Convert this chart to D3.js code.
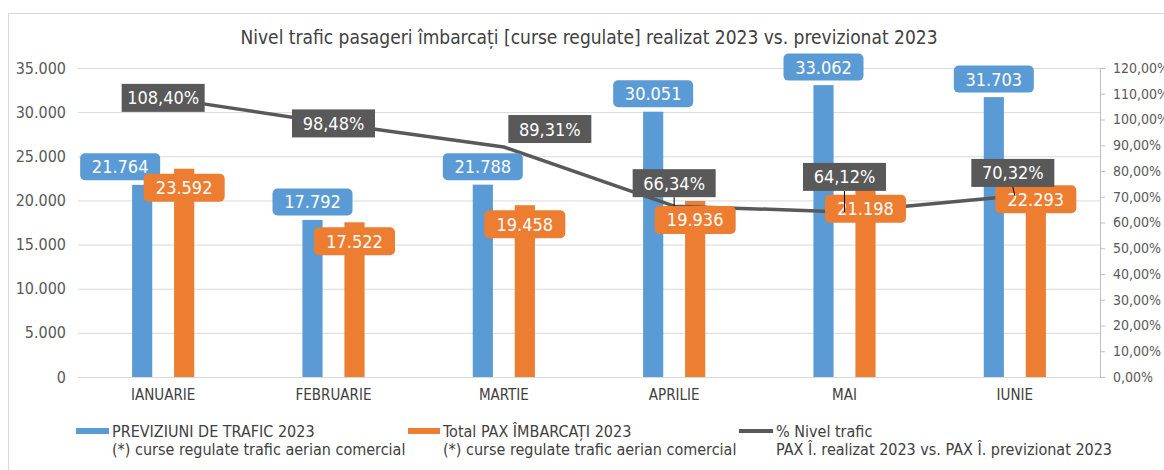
<!DOCTYPE html>
<html>
<head>
<meta charset="utf-8">
<script src="https://cdn.jsdelivr.net/npm/d3@7"></script>
<style>
  html, body { margin: 0; padding: 0; background: #fff; }
  svg { display: block; }
  text { font-family: "Liberation Sans Narrow", "DejaVu Sans Condensed", "Roboto Condensed", Roboto, sans-serif; }
</style>
</head>
<body>
<div id="chart"></div>
<script>
// date
const months = ['IANUARIE', 'FEBRUARIE', 'MARTIE', 'APRILIE', 'MAI', 'IUNIE'];
const forecast = [21764, 17792, 21788, 30051, 33062, 31703];   // PREVIZIUNI DE TRAFIC 2023
const actual = [23592, 17522, 19458, 19936, 21198, 22293];     // Total PAX IMBARCATI 2023
const level = [1.0840, 0.9848, 0.8931, 0.6634, 0.6412, 0.7032]; // % Nivel trafic
const leftTicks = [0, 5000, 10000, 15000, 20000, 25000, 30000, 35000];
const rightTicks = [0, 0.1, 0.2, 0.3, 0.4, 0.5, 0.6, 0.7, 0.8, 0.9, 1.0, 1.1, 1.2];

// pozitionare etichete (ca in Excel, mutate manual)
const forecastLabelDx = { IANUARIE: -22 };
const levelLabelOffset = {
    MARTIE: [46, -18],
    APRILIE: [0, -23],
    MAI: [0, -35],
    IUNIE: [-2, -23]
};

const colors = { blue: '#5B9BD5', orange: '#ED7D31', gray: '#595959', grid: '#D9D9D9' };

const width = 1164, height = 470;
const margin = { left: 78, right: 64, top: 68, bottom: 93 };

const svg = d3.select('#chart').append('svg')
    .attr('width', width)
    .attr('height', height);

// chenar
svg.append('rect')
    .attr('x', 8.5).attr('y', 13.5)
    .attr('width', 1300).attr('height', 600)
    .attr('fill', 'none')
    .attr('stroke', '#D9D9D9');

const x0 = d3.scaleBand()
    .domain(months)
    .range([margin.left, width - margin.right]);

const x1 = d3.scaleBand()
    .domain(['forecast', 'actual'])
    .range([-42, 42])
    .paddingInner(0.52)
    .paddingOuter(0.26);

const y = d3.scaleLinear().domain([0, 35000]).range([height - margin.bottom, margin.top]);
const yR = d3.scaleLinear().domain([0, 1.2]).range([height - margin.bottom, margin.top]);

const numFmt = d3.formatLocale({ decimal: ',', thousands: '.', grouping: [3], currency: ['', ''] });
const fmtInt = numFmt.format(',d');
const fmtPct = numFmt.format('.2%');

// titlu
svg.append('text')
    .attr('x', 589).attr('y', 44)
    .attr('text-anchor', 'middle')
    .attr('fill', '#404040')
    .attr('font-size', '19px')
    .text('Nivel trafic pasageri îmbarcați [curse regulate] realizat 2023 vs. previzionat 2023');

// grila + axa stanga
const leftAxis = d3.axisLeft(y)
    .tickValues(leftTicks)
    .tickSize(-(width - margin.left - margin.right))
    .tickPadding(12)
    .tickFormat(fmtInt);

svg.append('g')
    .attr('transform', `translate(${margin.left},0)`)
    .call(leftAxis)
    .call(g => g.select('.domain').remove())
    .call(g => g.selectAll('.tick line').attr('stroke', colors.grid))
    .call(g => g.selectAll('.tick text')
        .attr('fill', colors.gray)
        .attr('font-size', '16px'));

// axa dreapta
const rightAxis = d3.axisRight(yR)
    .tickValues(rightTicks)
    .tickSize(5)
    .tickPadding(8)
    .tickFormat(fmtPct);

svg.append('g')
    .attr('transform', `translate(${width - margin.right},0)`)
    .call(rightAxis)
    .call(g => g.select('.domain').attr('stroke', '#BFBFBF'))
    .call(g => g.selectAll('.tick line').attr('stroke', '#BFBFBF'))
    .call(g => g.selectAll('.tick text')
        .attr('fill', colors.gray)
        .attr('font-size', '14px'));

// axa categorii
svg.append('g')
    .attr('transform', `translate(0,${height - margin.bottom})`)
    .call(d3.axisBottom(x0).tickSize(0).tickPadding(12))
    .call(g => g.select('.domain').remove())
    .call(g => g.selectAll('.tick text')
        .attr('fill', '#404040')
        .attr('font-size', '15px'));

const cx = m => x0(m) + x0.bandwidth() / 2;

// bare
const rows = months.map((m, i) => ({ month: m, forecast: forecast[i], actual: actual[i], level: level[i] }));

svg.append('g').selectAll('rect')
    .data(rows)
    .join('rect')
    .attr('x', d => cx(d.month) + x1('forecast'))
    .attr('y', d => y(d.forecast))
    .attr('width', x1.bandwidth())
    .attr('height', d => y(0) - y(d.forecast))
    .attr('fill', colors.blue);

svg.append('g').selectAll('rect')
    .data(rows)
    .join('rect')
    .attr('x', d => cx(d.month) + x1('actual'))
    .attr('y', d => y(d.actual))
    .attr('width', x1.bandwidth())
    .attr('height', d => y(0) - y(d.actual))
    .attr('fill', colors.orange);

// linia procentuala
const line = d3.line()
    .x(d => cx(d.month))
    .y(d => yR(d.level));

svg.append('path')
    .datum(rows)
    .attr('d', line)
    .attr('fill', 'none')
    .attr('stroke', colors.gray)
    .attr('stroke-width', 3.5)
    .attr('stroke-linejoin', 'round');

// etichete bare
function barLabel(g, px, py, w, h, fill, txt, rx) {
    g.append('rect')
        .attr('x', px - w / 2).attr('y', py - h / 2)
        .attr('width', w).attr('height', h)
        .attr('rx', rx).attr('ry', rx)
        .attr('fill', fill);
    g.append('text')
        .attr('x', px).attr('y', py)
        .attr('text-anchor', 'middle')
        .attr('dy', '0.36em')
        .attr('fill', '#fff')
        .attr('font-size', '18px')
        .text(txt);
}

const labels = svg.append('g');
rows.forEach(d => {
    const bx = cx(d.month) + x1('forecast') + x1.bandwidth() / 2 + (forecastLabelDx[d.month] || 0);
    barLabel(labels, bx, y(d.forecast) - 18, 80, 27, colors.blue, fmtInt(d.forecast), 5);
});
rows.forEach(d => {
    const bx = cx(d.month) + x1('actual') + x1.bandwidth() / 2;
    barLabel(labels, bx, y(d.actual) + 19, 81, 28, colors.orange, fmtInt(d.actual), 5);
});

// etichete procent + linii de legatura
rows.forEach(d => {
    const px = cx(d.month), py = yR(d.level);
    const off = levelLabelOffset[d.month] || [0, 0];
    const lx = px + off[0], ly = py + off[1];
    if (Math.abs(off[0]) < 5 && Math.abs(off[1]) > 14) {
        labels.append('line')
            .attr('x1', lx).attr('y1', ly + 14)
            .attr('x2', px).attr('y2', py)
            .attr('stroke', '#000')
            .attr('stroke-width', 1);
    }
    barLabel(labels, lx, ly, 83, 28, colors.gray, fmtPct(d.level), 0);
});

// legenda
const legend = svg.append('g').attr('font-size', '16px').attr('fill', '#404040');
const legendItems = [
    { x: 76, w: 33, color: colors.blue, type: 'bar', l1: 'PREVIZIUNI DE TRAFIC 2023', l2: '(*) curse regulate trafic aerian comercial' },
    { x: 408, w: 32, color: colors.orange, type: 'bar', l1: 'Total PAX ÎMBARCAȚI 2023', l2: '(*) curse regulate trafic aerian comercial' },
    { x: 739, w: 34, color: colors.gray, type: 'line', l1: '% Nivel trafic', l2: 'PAX Î. realizat 2023 vs. PAX Î. previzionat 2023' }
];
legendItems.forEach(it => {
    if (it.type === 'bar') {
        legend.append('rect')
            .attr('x', it.x).attr('y', 428)
            .attr('width', it.w).attr('height', 6)
            .attr('fill', it.color);
    } else {
        legend.append('line')
            .attr('x1', it.x).attr('x2', it.x + it.w)
            .attr('y1', 431).attr('y2', 431)
            .attr('stroke', it.color)
            .attr('stroke-width', 4);
    }
    legend.append('text').attr('x', it.x + it.w + 3).attr('y', 437).text(it.l1);
    legend.append('text').attr('x', it.x + it.w + 3).attr('y', 455).text(it.l2);
});
</script>
</body>
</html>
